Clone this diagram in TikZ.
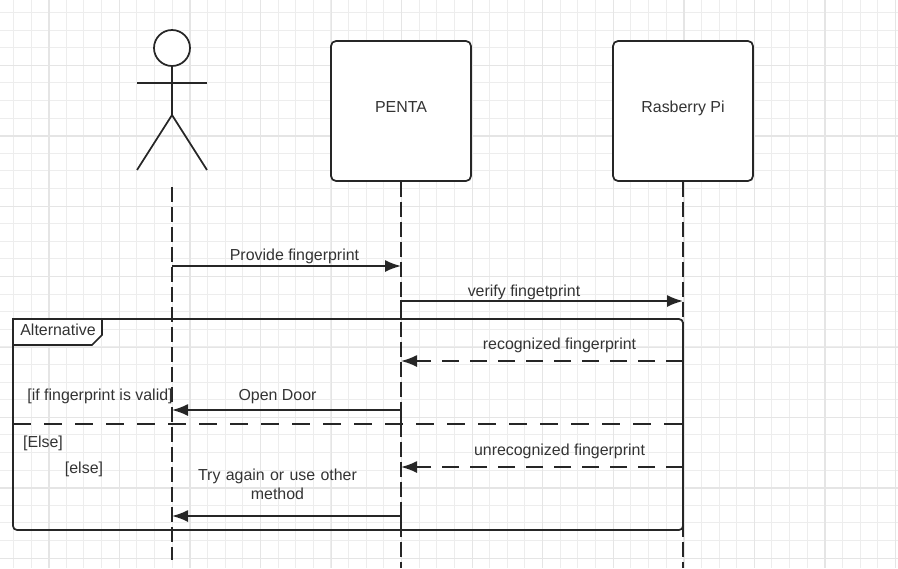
\documentclass[tikz,border=0pt]{standalone}
\usepackage{fontspec}
\setmainfont{Liberation Sans}
\usetikzlibrary{arrows.meta}
\tikzset{
  gridline/.style={line width=0.75pt,draw=black!7},
  gridmajor/.style={line width=0.9pt,draw=black!10},
  heavy/.style={line width=1.3pt,draw=black!85},
  lifebox/.style={heavy,fill=white,rounded corners=3.75pt,minimum width=105pt,minimum height=105pt,inner sep=0pt,text=black!80,text height=8pt,text depth=6pt},
  lifeline/.style={heavy,dash pattern=on 11.25pt off 3.75pt},
  msg/.style={heavy,-{Latex[length=12pt,width=9pt]}},
  reply/.style={msg,dash pattern=on 12.75pt off 8.25pt},
  lbl/.style={text=black!80,inner sep=0pt,align=center}
}
\begin{document}
\begin{tikzpicture}[x=0.75pt,y=-0.75pt,font=\fontsize{11.95}{14.25}\selectfont]
\useasboundingbox (0,0) rectangle (898,568);
\foreach \k in {-1,...,50}
  \draw[gridline] ({13.4+17.64*\k},0) -- ({13.4+17.64*\k},568);
\foreach \k in {0,...,32}
  \draw[gridline] (0,{12.4+17.6*\k}) -- (898,{12.4+17.6*\k});
\foreach \k in {0,...,12}
  \draw[gridmajor] ({48.9+70.56*\k},0) -- ({48.9+70.56*\k},568);
\foreach \k in {0,...,7}
  \draw[gridmajor] (0,{65.5+70.4*\k}) -- (898,{65.5+70.4*\k});
% actor
\node[circle,heavy,fill=white,minimum size=27pt,inner sep=0pt] (head) at (172,48) {};
\coordinate (hip) at (172,115);
\coordinate (armL) at (137,83);
\coordinate (armR) at (207,83);
\coordinate (legL) at (137,170);
\coordinate (legR) at (207,170);
\draw[heavy] (head.south) -- (hip);
\draw[heavy] (armL) -- (armR);
\draw[heavy] (legL) -- (hip) -- (legR);
% lifelines
\node[lifebox] (penta) at (401,111) {PENTA};
\node[lifebox] (pi) at (683,111) {Rasberry Pi};
\coordinate (userTop) at (172,187);
\coordinate (userEnd) at (172,560);
\coordinate (pentaEnd) at (401,568);
\coordinate (piEnd) at (683,568);
\draw[lifeline] (userTop) -- (userEnd);
\draw[lifeline] (penta.south) -- (pentaEnd);
\draw[lifeline] (pi.south) -- (piEnd);
% alternative frame
\coordinate (frameTL) at (13,319);
\coordinate (frameBR) at (683,530);
\draw[heavy,rounded corners=3pt] (frameTL) rectangle (frameBR);
\coordinate (sepL) at (13,424);
\coordinate (sepR) at (683,424);
\draw[heavy,dash pattern=on 13.5pt off 9.75pt] (sepL) -- (sepR);
\coordinate (tabA) at (102,319);
\coordinate (tabB) at (102,335);
\coordinate (tabC) at (92,345);
\coordinate (tabD) at (13,345);
\draw[heavy,fill=white] (frameTL) -- (tabA) -- (tabB) -- (tabC) -- (tabD) -- cycle;
\node[lbl] (alt) at (58,329.5) {Alternative};
% messages
\coordinate (m1a) at (172,266);
\coordinate (m1b) at (401,266);
\coordinate (m2s) at (401,319);
\coordinate (m2a) at (401,301);
\coordinate (m2b) at (683,301);
\coordinate (m3a) at (683,361);
\coordinate (m3b) at (401,361);
\coordinate (m4s) at (401,424);
\coordinate (m4a) at (401,410);
\coordinate (m4b) at (172,410);
\coordinate (m5a) at (683,467);
\coordinate (m5b) at (401,467);
\coordinate (m6s) at (401,530);
\coordinate (m6a) at (401,516);
\coordinate (m6b) at (172,516);
\draw[msg] (m1a) -- (m1b);
\draw[msg] (m2s) -- (m2a) -- (m2b);
\draw[reply] (m3a) -- (m3b);
\draw[msg] (m4s) -- (m4a) -- (m4b);
\draw[reply] (m5a) -- (m5b);
\draw[msg] (m6s) -- (m6a) -- (m6b);
% labels
\node[lbl] (l1) at (294.5,256) {Provide fingerprint};
\node[lbl] (l2) at (524,292.5) {verify fingetprint};
\node[lbl] (l3) at (559.5,345) {recognized fingerprint};
\node[lbl] (l4) at (277.5,397) {Open Door};
\node[lbl] (l5) at (559.5,451) {unrecognized fingerprint};
\node[lbl,text width=170pt] (l6) at (277.5,484) {Try again or use other\\method};
\node[lbl] (g1) at (100,396.5) {[if fingerprint is valid]};
\node[lbl] (g2) at (43,443) {[Else]};
\node[lbl] (g3) at (84,469) {[else]};
\end{tikzpicture}
\end{document}
